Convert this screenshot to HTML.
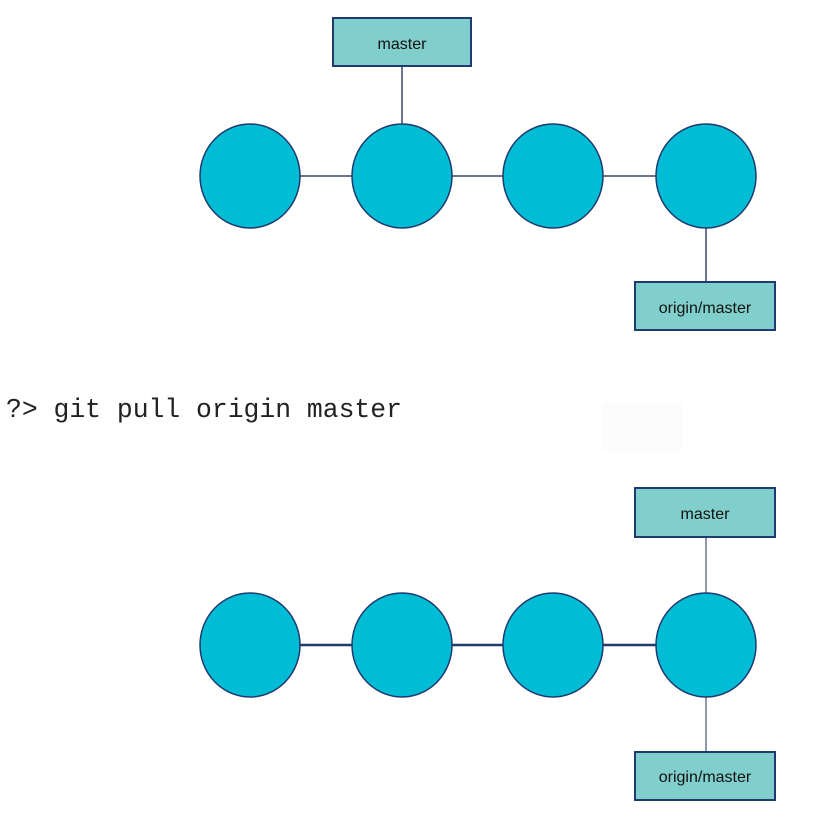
<!DOCTYPE html>
<html><head><meta charset="utf-8"><style>
html,body{margin:0;padding:0;background:#fff;width:823px;height:827px;overflow:hidden}
</style></head><body>
<svg width="823" height="827" xmlns="http://www.w3.org/2000/svg">
<g stroke="#6b7590" stroke-width="2">
<line x1="250" y1="176" x2="706" y2="176"/>
<line x1="402" y1="66" x2="402" y2="124"/>
<line x1="706" y1="228" x2="706" y2="281"/>
</g>
<g stroke="#1f3a6e" stroke-width="2.5">
<line x1="250" y1="645" x2="706" y2="645"/>
</g>
<g stroke="#6b7590" stroke-width="1.5">
<line x1="706" y1="537" x2="706" y2="593"/>
<line x1="706" y1="697" x2="706" y2="752"/>
</g>
<g fill="#00bcd4" stroke="#1f3a6e" stroke-width="1.5">
<ellipse cx="250" cy="176" rx="50" ry="52"/>
<ellipse cx="402" cy="176" rx="50" ry="52"/>
<ellipse cx="553" cy="176" rx="50" ry="52"/>
<ellipse cx="706" cy="176" rx="50" ry="52"/>
<ellipse cx="250" cy="645" rx="50" ry="52"/>
<ellipse cx="402" cy="645" rx="50" ry="52"/>
<ellipse cx="553" cy="645" rx="50" ry="52"/>
<ellipse cx="706" cy="645" rx="50" ry="52"/>
</g>
<g fill="#80cfcc" stroke="#1f3a6e" stroke-width="2">
<rect x="333" y="18" width="138" height="48"/>
<rect x="635" y="282" width="140" height="48"/>
<rect x="635" y="488" width="140" height="49"/>
<rect x="635" y="752" width="140" height="48"/>
</g>
<g font-family="Liberation Sans, sans-serif" font-size="16" fill="#111" text-anchor="middle">
<text x="402" y="49">master</text>
<text x="705" y="313">origin/master</text>
<text x="705" y="519">master</text>
<text x="705" y="782">origin/master</text>
</g>
<rect x="603" y="403" width="80" height="48" fill="#fcfcfc"/>
<text x="6" y="417" font-family="Liberation Mono, monospace" font-size="26.4" fill="#222">?&gt; git pull origin master</text>
</svg>
</body></html>
